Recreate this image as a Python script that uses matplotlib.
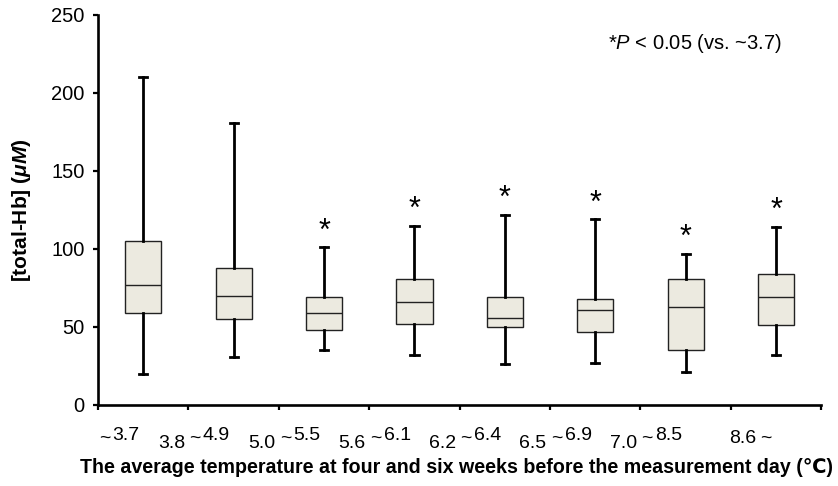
import matplotlib
matplotlib.use("Agg")
import matplotlib.pyplot as plt
from matplotlib import font_manager

# temperature groups (lower / upper bound of each class)
lo_vals = ["", "3.8", "5.0", "5.6", "6.2", "6.5", "7.0", "8.6"]
hi_vals = ["3.7", "4.9", "5.5", "6.1", "6.4", "6.9", "8.5", ""]

# box statistics, [total-Hb] in uM
whislo = [20, 31, 35, 32, 26, 27, 21, 32]
q1 = [59, 55, 48, 52, 50, 47, 35, 51]
med = [77, 70, 59, 66, 56, 61, 63, 69]
q3 = [105, 88, 69, 81, 69, 68, 81, 84]
whishi = [210, 181, 101, 115, 122, 119, 97, 114]
signif = [False, False, True, True, True, True, True, True]

plt.rcParams['font.family'] = ['Liberation Sans', 'DejaVu Sans']
plt.rcParams['mathtext.fontset'] = 'custom'
plt.rcParams['mathtext.rm'] = 'Liberation Sans'
plt.rcParams['mathtext.it'] = 'Liberation Sans:italic'
plt.rcParams['mathtext.bf'] = 'Liberation Sans:italic:bold'

installed = {f.name for f in font_manager.fontManager.ttflist}
narrow = [f for f in ['Liberation Sans Narrow', 'DejaVu Sans Condensed'] if f in installed]
narrow = narrow + ['Liberation Sans', 'DejaVu Sans']

fig = plt.figure(figsize=(8.38, 4.86), dpi=100)
ax = fig.add_axes([0.117, 0.1667, 0.863, 0.8025])

stats = []
for i in range(len(med)):
    stats.append(dict(whislo=whislo[i], q1=q1[i], med=med[i], q3=q3[i],
                      whishi=whishi[i], fliers=[]))
pos = [i + 0.5 for i in range(len(stats))]

ax.bxp(stats, positions=pos, widths=0.4, patch_artist=True, showfliers=False,
       capwidths=0.09,
       boxprops=dict(facecolor='#ECEAE0', edgecolor='#222222', linewidth=1.0),
       medianprops=dict(color='#222222', linewidth=1.0),
       whiskerprops=dict(color='black', linewidth=2.0),
       capprops=dict(color='black', linewidth=2.0))

for p, top, s in zip(pos, whishi, signif):
    if s:
        ax.text(p, top + 5, '*', ha='center', va='baseline', fontsize=22)

ax.text(6.6, 232, r"*$P$ < 0.05 (vs. ~3.7)", ha='center', va='center', fontsize=14.5)

ax.set_xlim(0, 8)
ax.set_ylim(0, 250)
ax.set_yticks(range(0, 251, 50))
ax.set_xticks(range(0, 9))
ax.set_xticklabels([])
ax.tick_params(axis='y', labelsize=14.5, width=1.6, length=3.5, pad=6)
ax.tick_params(axis='x', width=1.6, length=3.5)
for side in ['top', 'right']:
    ax.spines[side].set_visible(False)
for side in ['left', 'bottom']:
    ax.spines[side].set_linewidth(1.9)

# staggered category labels: lower bound sits lower than "~upper"
trans = ax.get_xaxis_transform()
for i, (lo, hi) in enumerate(zip(lo_vals, hi_vals)):
    xt = i + 0.072
    if hi == "":
        xt = i + 0.39
    ax.annotate('~', xy=(xt, 0), xycoords=trans, xytext=(0, -38),
                textcoords='offset pixels', ha='center', va='baseline',
                fontsize=14, family=narrow)
    if lo:
        dy = -43 if hi else -38
        ax.annotate(lo, xy=(xt, 0), xycoords=trans, xytext=(-10, dy),
                    textcoords='offset pixels', ha='right', va='baseline',
                    fontsize=14, family=narrow)
    if hi:
        ax.annotate(hi, xy=(xt, 0), xycoords=trans, xytext=(8, -35),
                    textcoords='offset pixels', ha='left', va='baseline',
                    fontsize=14, family=narrow)

ax.set_ylabel(r"[total-Hb] ($\mathbf{\mu M}$)", fontsize=15, fontweight='bold')
ax.yaxis.set_label_coords(-0.09, 0.5)

xlab = fig.text(0.545, 0.039,
                "The average temperature at four and six weeks before the measurement day (\u2103)",
                ha='center', va='center', fontsize=15, fontweight='bold', family=narrow)
# squeeze the long axis title to the width it has in the original (~758 px)
r = fig.canvas.get_renderer()
w = xlab.get_window_extent(renderer=r).width
xlab.set_fontsize(15 * 758 / w)

fig.savefig("out.png", dpi=100)
